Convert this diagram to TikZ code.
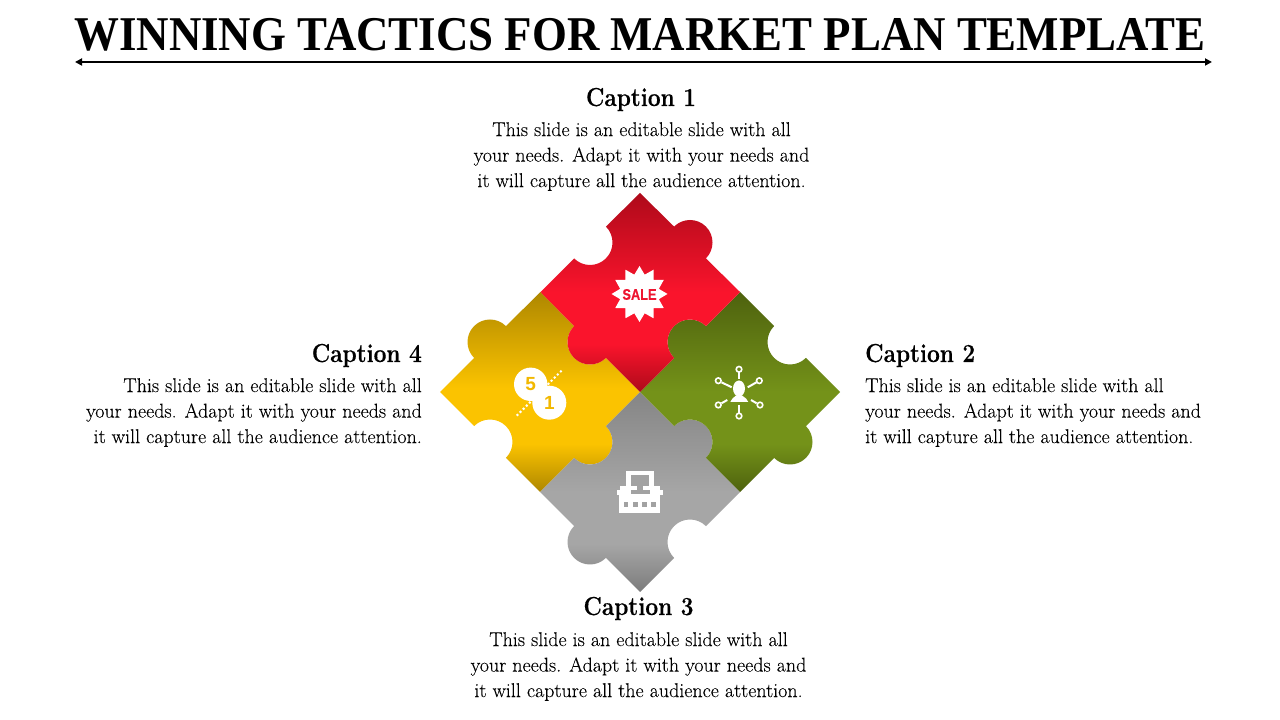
\documentclass[tikz,border=0pt]{standalone}
\usepackage{fontspec}
\newfontfamily\titlefont[FakeStretch=0.925]{Liberation Serif}
\newfontfamily\capfont[FakeStretch=0.87,FakeBold=0.4]{Latin Modern Roman}
\newfontfamily\bodyfont[FakeBold=0.06]{Latin Modern Roman}
\newfontfamily\iconfont{Liberation Sans}
\newfontfamily\salefont[FakeStretch=0.83,FakeBold=0.3]{Liberation Sans}
\usetikzlibrary{arrows.meta}
\definecolor{rd}{HTML}{AE0A1A}\definecolor{rb}{HTML}{FA142C}
\definecolor{yd}{HTML}{AE8700}\definecolor{yb}{HTML}{FBC300}
\definecolor{gd}{HTML}{4E620E}\definecolor{gb}{HTML}{749219}
\definecolor{kd}{HTML}{7C7C7C}\definecolor{kb}{HTML}{A6A6A6}\definecolor{kt}{HTML}{858585}
\definecolor{salered}{HTML}{EE1530}\definecolor{numyel}{HTML}{F2B800}\definecolor{iconkey}{HTML}{A2A2A2}
\pgfdeclareverticalshading{redsh}{100bp}{color(0bp)=(rd);color(25bp)=(rd);color(37bp)=(rb);color(50bp)=(rb);color(75bp)=(rd);color(100bp)=(rd)}
\pgfdeclareverticalshading{yelsh}{100bp}{color(0bp)=(yd);color(25bp)=(yd);color(37bp)=(yb);color(51bp)=(yb);color(75bp)=(yd);color(100bp)=(yd)}
\pgfdeclareverticalshading{gresh}{100bp}{color(0bp)=(gd);color(25bp)=(gd);color(37bp)=(gb);color(50bp)=(gb);color(75bp)=(gd);color(100bp)=(gd)}
\pgfdeclareverticalshading{graysh}{100bp}{color(0bp)=(kd);color(25bp)=(kd);color(37bp)=(kb);color(50bp)=(kb);color(75bp)=(kt);color(100bp)=(kt)}
\newcommand{\tabe}[3]{-- ([shift={(#3:22.5)}]#1,#2) arc[start angle=#3,delta angle=-180,radius=22.5pt]}
\newcommand{\nche}[3]{-- ([shift={(#3:22.5)}]#1,#2) arc[start angle=#3,delta angle=180,radius=22.5pt]}
\newcommand{\spoke}[4]{\draw[iconline] (#1,#2) -- (#3,#4);}
\tikzset{
 x=1pt,y=1pt,
 titletext/.style={font=\titlefont\fontsize{48.5}{50}\selectfont\bfseries,inner sep=0pt},
 captext/.style={font=\capfont\fontsize{26}{30}\selectfont\bfseries,inner sep=0pt},
 bodytext/.style={font=\bodyfont\fontsize{20}{25.5}\selectfont,inner sep=0pt},
 iconline/.style={white,line width=2pt},
 iconring/.style={draw=white,line width=1.6pt,fill=none},
 numtext/.style={font=\iconfont\fontsize{19}{19}\selectfont\bfseries,text=numyel,inner sep=0pt},
 saletext/.style={font=\salefont\fontsize{15.4}{15.4}\selectfont\bfseries,text=salered,inner sep=0pt},
}
\begin{document}
\begin{tikzpicture}
\useasboundingbox (0,0) rectangle (1280,720);
\fill[white] (0,0) rectangle (1280,720);
% puzzle pieces
\shade[shading=yelsh] (540.5,428) \nche{590}{378}{135} -- (640,328) \tabe{590}{278}{45} -- (540,228) \nche{490}{278}{-45} -- (440,328) \tabe{490}{378}{225} -- cycle;
\shade[shading=graysh] (640,328) \tabe{690}{278}{135} -- (740,228) \nche{690}{178}{45} -- (640,128) \tabe{590}{178}{-45} -- (540,228) \nche{590}{278}{225} -- cycle;
\shade[shading=gresh] (740,428) \nche{790}{378}{135} -- (840,328) \tabe{790}{278}{45} -- (740,228) \nche{690}{278}{-45} -- (640,328) \tabe{690}{378}{225} -- cycle;
\shade[shading=redsh] (640,527) \tabe{690}{477.5}{135} -- (740,428) \nche{690}{378}{45} -- (640,328) \tabe{590}{378}{-45} -- (540.5,428) \nche{590}{477.5}{225} -- cycle;
\begin{scope}[yscale=-1,shift={(0,-720)}]
% title
\node[titletext,anchor=base] (title) at (640,51) {WINNING TACTICS FOR MARKET PLAN TEMPLATE};
\coordinate (ruleL) at (75,62);
\coordinate (ruleR) at (1212,62);
\draw[line width=1.8pt,{Triangle[length=7pt,width=7pt]}-{Triangle[length=7pt,width=7pt]}] (ruleL) -- (ruleR);
% captions
\node[captext,anchor=base] (cap1) at (641,106) {Caption 1};
\node[bodytext,anchor=north,align=center] (body1) at (641.5,122) {This slide is an editable slide with all\\your needs. Adapt it with your needs and\\it will capture all the audience attention.};
\node[captext,anchor=base west] (cap2) at (865,362) {Caption 2};
\node[bodytext,anchor=north west,align=left] (body2) at (865,378) {This slide is an editable slide with all\\your needs. Adapt it with your needs and\\it will capture all the audience attention.};
\node[captext,anchor=base] (cap3) at (638.5,615) {Caption 3};
\node[bodytext,anchor=north,align=center] (body3) at (638.5,632) {This slide is an editable slide with all\\your needs. Adapt it with your needs and\\it will capture all the audience attention.};
\node[captext,anchor=base east] (cap4) at (422,362) {Caption 4};
\node[bodytext,anchor=north east,align=right] (body4) at (422,378) {This slide is an editable slide with all\\your needs. Adapt it with your needs and\\it will capture all the audience attention.};
% sale icon
\begin{scope}[shift={(639.5,294)}]
\fill[white] (90:28) \foreach \i [evaluate=\i as \r using {mod(\i,2)==0?28:20}] in {1,...,23} { -- ({90+\i*15}:\r)} -- cycle;
\end{scope}
\node[saletext] (sale) at (639.5,294.5) {SALE};
% network icon
\fill[white] (739,388.5) ellipse[x radius=6pt,y radius=8pt];
\fill[white] (730.3,402) -- (732.5,398.5) -- (736,395.5) -- (742,395.5) -- (746,398.5) -- (748.3,402) -- cycle;
\foreach \px/\py in {739/369.3,718.3/380.7,759.3/380.7,718.3/405,760/405,739/416}
  \draw[iconring] (\px,\py) circle[radius=2.8pt];
\spoke{739}{372.5}{739}{379.5}
\spoke{721.5}{382.3}{731.7}{387.3}
\spoke{756.5}{382.3}{747.7}{387.3}
\spoke{721.5}{403.3}{727.3}{400}
\spoke{756.7}{403.3}{751}{400}
\spoke{739}{405}{739}{412.8}
% coupon icon
\fill[white] (530.7,384.3) circle[radius=16.7pt];
\fill[white] (549.3,402.7) circle[radius=17pt];
\draw[white,line width=2pt,dash pattern=on 2pt off 2.4pt] (516.7,415.7) -- (563.3,369);
\node[numtext] (five) at (530.7,384.5) {5};
\node[numtext] (one) at (549.3,403) {1};
% typewriter icon
\fill[white] (626,471) rectangle (654,492);
\fill[white] (620,486) rectangle (660,495);
\fill[white] (616.7,490) rectangle (663.3,495);
\fill[white] (619.3,493) rectangle (660,513.3);
\fill[iconkey] (630.5,475.5) rectangle (649,486);
\fill[iconkey] (636.7,485) rectangle (642.7,490.5);
\fill[iconkey] (630.5,490) rectangle (650,494);
\foreach \kx in {623.5,632.8,642,651.3}
  \fill[iconkey] (\kx,502.3) rectangle ++(4.8,4.6);
\end{scope}
\end{tikzpicture}
\end{document}
